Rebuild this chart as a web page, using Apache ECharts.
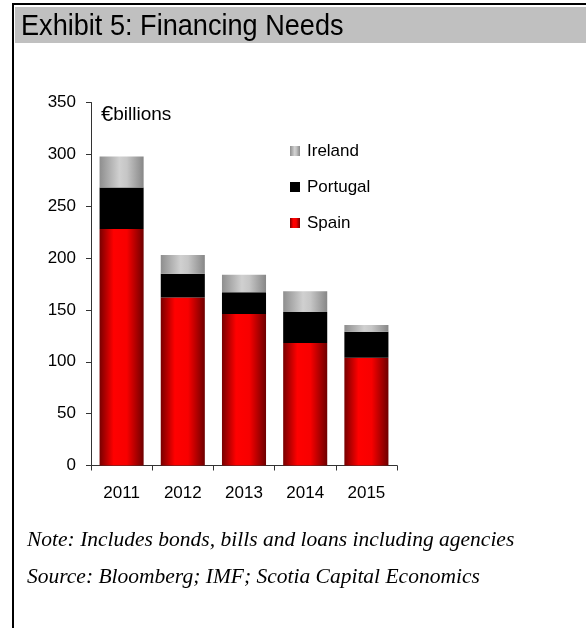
<!DOCTYPE html>
<html>
<head>
<meta charset="utf-8">
<style>
  html, body { margin: 0; padding: 0; background: #fff; }
  #chart { width: 586px; height: 628px; }
</style>
<script src="https://cdn.jsdelivr.net/npm/echarts@6/dist/echarts.min.js"></script>
</head>
<body>
<div id="chart"></div>
<script>
// Financing needs by country, € billions
const years = ['2011', '2012', '2013', '2014', '2015'];
const spain = [228, 162, 146, 118, 104];
const portugal = [40, 23, 21, 30, 25];
const ireland = [30, 18, 17, 20, 6.5];
const yTicks = [0, 50, 100, 150, 200, 250, 300, 350];

const chart = echarts.init(document.getElementById('chart'), null, { renderer: 'canvas' });

// cylinder-like shading across each bar
const redFill = new echarts.graphic.LinearGradient(0, 0, 1, 0, [
  { offset: 0, color: '#780000' },
  { offset: 0.32, color: '#ff0000' },
  { offset: 0.62, color: '#f80000' },
  { offset: 1, color: '#6e0000' }
]);
const greyFill = new echarts.graphic.LinearGradient(0, 0, 1, 0, [
  { offset: 0, color: '#8e8e8e' },
  { offset: 0.45, color: '#d0d0d0' },
  { offset: 0.62, color: '#c6c6c6' },
  { offset: 1, color: '#878787' }
]);

const SANS = 'Liberation Sans, Arial, sans-serif';
const SERIF_ITALIC = 'italic 21.5px "Liberation Serif", "Times New Roman", serif';
const axisFont = { fontFamily: SANS, fontSize: 17, color: '#000' };

chart.setOption({
  animation: false,
  graphic: [
    // frame lines and title band
    { type: 'rect', z: -10, shape: { x: 15, y: 7, width: 571, height: 36 }, style: { fill: '#c0c0c0' } },
    { type: 'rect', z: -5, shape: { x: 12, y: 3, width: 574, height: 2 }, style: { fill: '#000' } },
    { type: 'rect', z: -5, shape: { x: 12, y: 3, width: 2, height: 625 }, style: { fill: '#000' } },
    {
      type: 'text', x: 21, y: 27, scaleX: 0.935,
      style: {
        text: 'Exhibit 5: Financing Needs',
        font: '29px ' + SANS, fill: '#000', verticalAlign: 'middle'
      }
    },
    {
      type: 'text', x: 101, y: 115,
      style: {
        text: '{e|€}{b|billions}',
        verticalAlign: 'middle',
        rich: {
          e: { fontFamily: SANS, fontSize: 22, fill: '#000' },
          b: { fontFamily: SANS, fontSize: 19, fill: '#000' }
        }
      }
    },
    {
      type: 'text', x: 27, y: 540,
      style: { text: 'Note: Includes bonds, bills and loans including agencies',
        font: SERIF_ITALIC, fill: '#000', verticalAlign: 'middle' }
    },
    {
      type: 'text', x: 27, y: 577,
      style: { text: 'Source: Bloomberg; IMF; Scotia Capital Economics',
        font: SERIF_ITALIC, fill: '#000', verticalAlign: 'middle' }
    }
  ],
  legend: {
    orient: 'vertical',
    left: 290,
    top: 142,
    padding: 0,
    data: ['Ireland', 'Portugal', 'Spain'],
    icon: 'rect',
    itemWidth: 10,
    itemHeight: 10,
    itemGap: 18,
    textStyle: { fontFamily: SANS, fontSize: 17, color: '#000', lineHeight: 18, padding: [0, 0, 0, 2] }
  },
  grid: { left: 91, right: 189, top: 102.5, bottom: 162.5 },
  xAxis: {
    type: 'category',
    data: years,
    axisLine: { lineStyle: { color: '#333', width: 1 } },
    axisTick: { show: true, length: 5, inside: false, lineStyle: { color: '#333' } },
    axisLabel: Object.assign({ margin: 19 }, axisFont)
  },
  yAxis: {
    type: 'value',
    min: yTicks[0],
    max: yTicks[yTicks.length - 1],
    interval: 50,
    axisLine: { show: true, lineStyle: { color: '#333', width: 1 } },
    axisTick: { show: true, length: 5, lineStyle: { color: '#333' } },
    splitLine: { show: false },
    axisLabel: Object.assign({ margin: 15 }, axisFont)
  },
  series: [
    { name: 'Spain', type: 'bar', stack: 'total', data: spain, barWidth: '72%', itemStyle: { color: redFill } },
    { name: 'Portugal', type: 'bar', stack: 'total', data: portugal, barWidth: '72%', itemStyle: { color: '#000' } },
    { name: 'Ireland', type: 'bar', stack: 'total', data: ireland, barWidth: '72%', itemStyle: { color: greyFill } }
  ]
});
</script>
</body>
</html>
